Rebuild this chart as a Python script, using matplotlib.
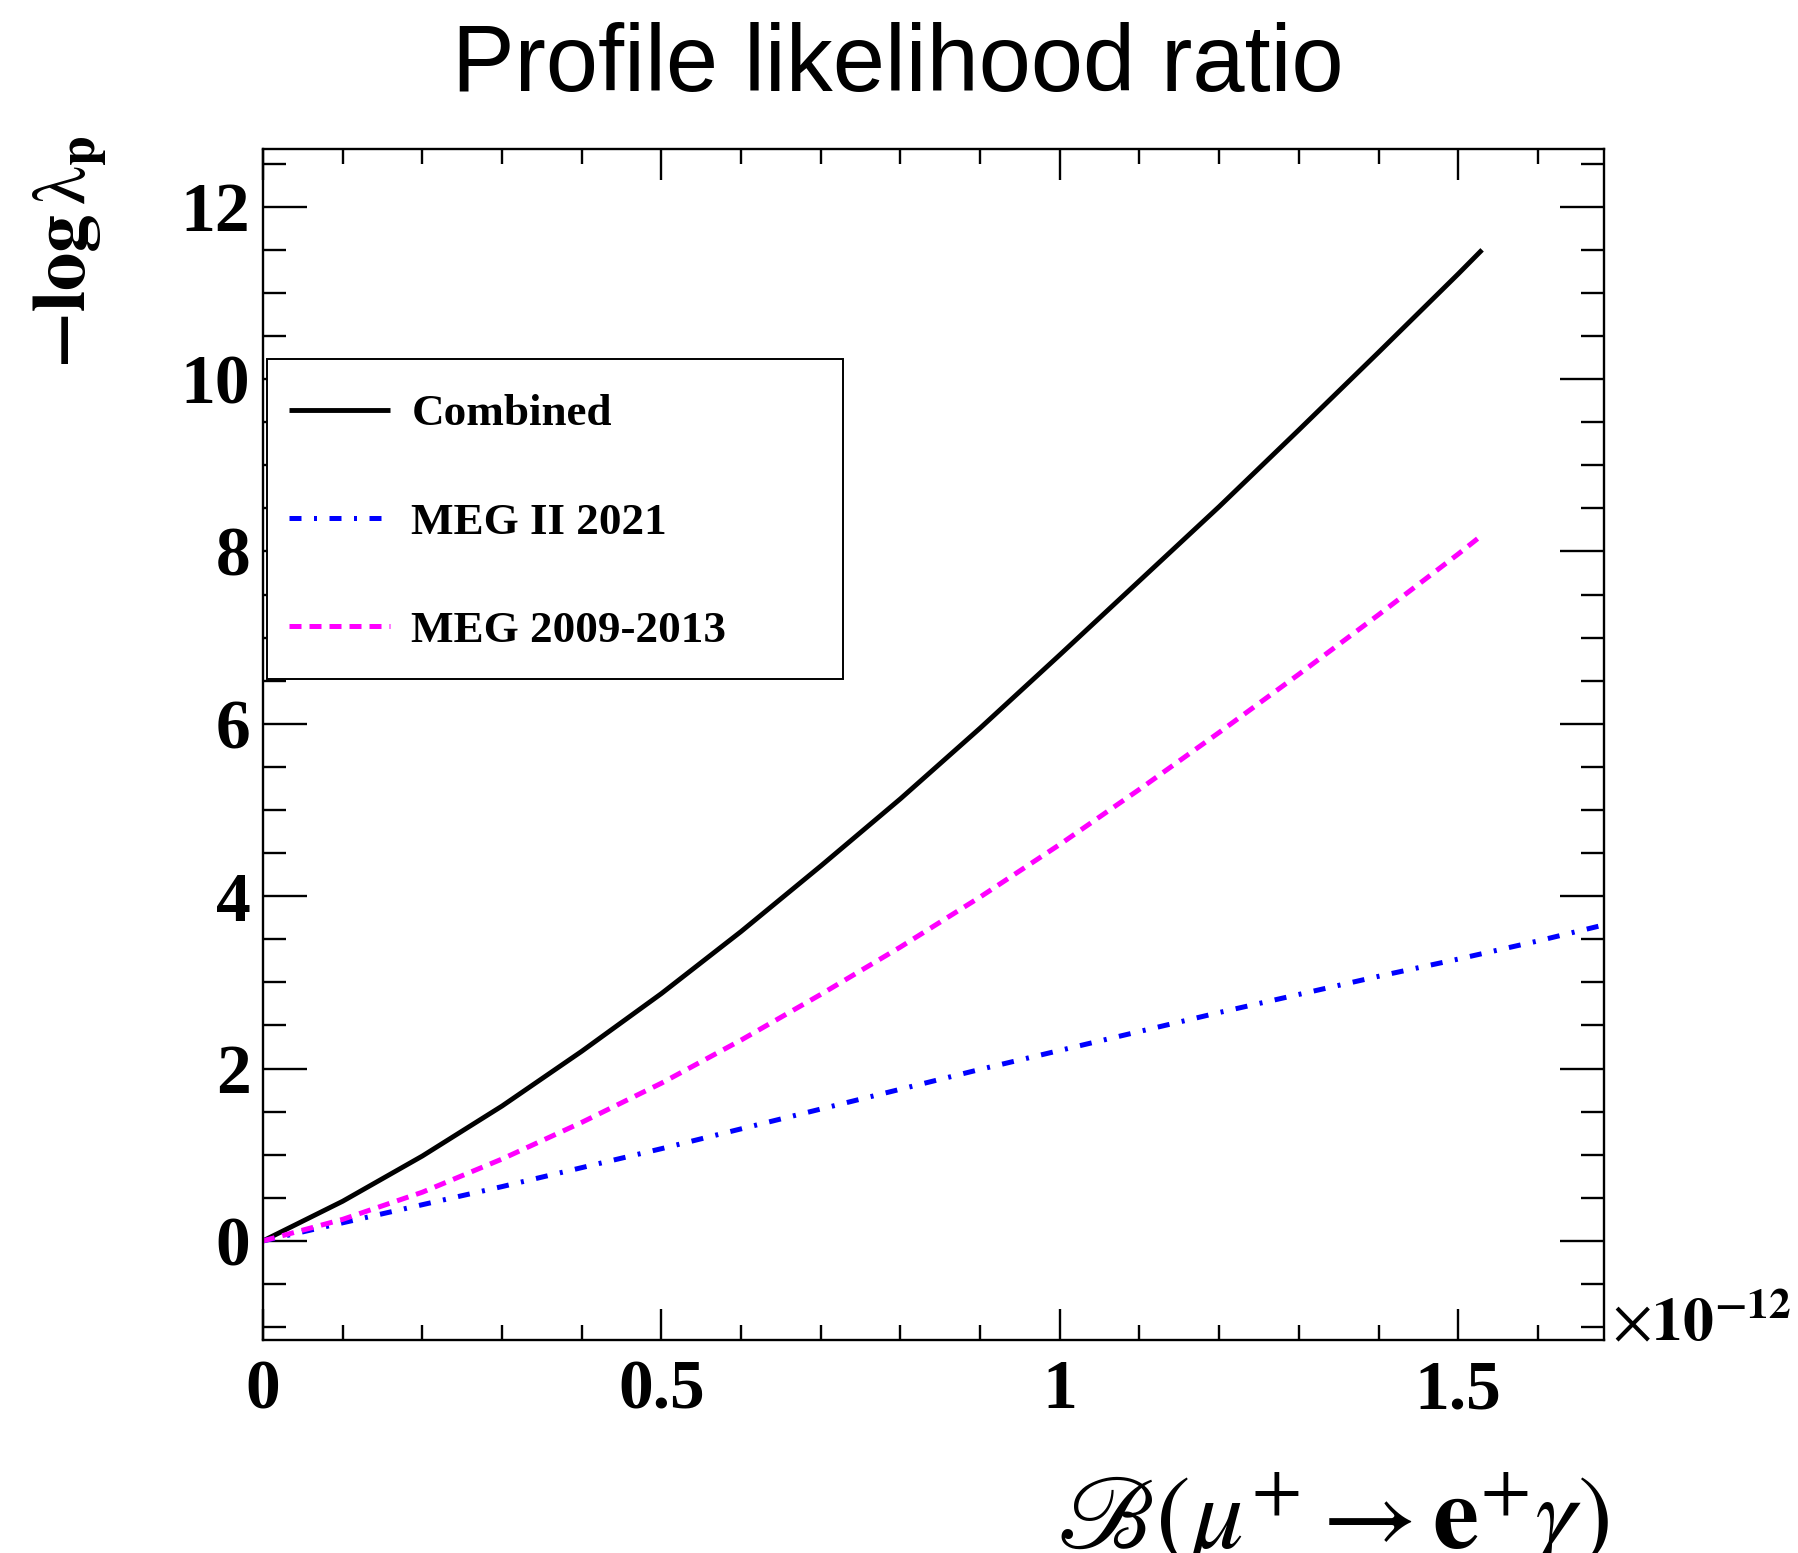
import matplotlib
matplotlib.use("Agg")
import matplotlib.pyplot as plt
from matplotlib.ticker import FixedLocator, MultipleLocator
from matplotlib.patches import Rectangle

# ---------------- data (x in units of 1e-12) ----------------
x_exponent = -12
comb_x = [0.0, 0.1, 0.2, 0.3, 0.4, 0.5, 0.6, 0.7, 0.8, 0.9, 1.0, 1.1, 1.2, 1.3, 1.4, 1.5, 1.53]
comb_y = [0.0, 0.46, 0.985, 1.565, 2.20, 2.87, 3.59, 4.35, 5.13, 5.95, 6.80, 7.66, 8.52, 9.41, 10.31, 11.22, 11.50]

megii_x = [0.0, 0.1, 0.2, 0.3, 0.4, 0.5, 0.6, 0.7, 0.8, 0.9, 1.0, 1.1, 1.2, 1.3, 1.4, 1.5, 1.6, 1.68]
megii_y = [0.0, 0.21, 0.42, 0.63, 0.85, 1.07, 1.30, 1.53, 1.76, 1.99, 2.21, 2.43, 2.65, 2.86, 3.07, 3.27, 3.48, 3.66]

meg_x = [0.0, 0.1, 0.2, 0.3, 0.4, 0.5, 0.6, 0.7, 0.8, 0.9, 1.0, 1.1, 1.2, 1.3, 1.4, 1.5, 1.53]
meg_y = [0.0, 0.25, 0.565, 0.95, 1.375, 1.83, 2.33, 2.86, 3.41, 3.99, 4.60, 5.24, 5.90, 6.575, 7.265, 7.97, 8.19]

series_labels = ["Combined", "MEG II 2021", "MEG 2009-2013"]
title_text = "Profile likelihood ratio"
xtick_vals = [0, 0.5, 1, 1.5]
xtick_labels = ["0", "0.5", "1", "1.5"]
ytick_vals = [0, 2, 4, 6, 8, 10, 12]
ytick_labels = ["0", "2", "4", "6", "8", "10", "12"]
x_limits = (0.0, 1.683)
y_limits = (-1.15, 12.67)

# ---------------- figure ----------------
W, H = 1799, 1553
plt.rcParams["font.family"] = ["Liberation Serif", "DejaVu Serif"]

fig = plt.figure(figsize=(W / 100, H / 100), dpi=100)
fig.patch.set_facecolor("white")
ax = fig.add_axes([263 / W, 1 - 1340 / H, (1604 - 263) / W, (1340 - 149) / H])

l1, = ax.plot(comb_x, comb_y, color="black", lw=3.5, solid_capstyle="butt")
l2, = ax.plot(megii_x, megii_y, color="#0000ff", lw=3.6,
              linestyle=(0, (2.4, 2.5, 0.6, 2.5)), dash_capstyle="butt")
l3, = ax.plot(meg_x, meg_y, color="#ff00ff", lw=3.6,
              linestyle=(0, (2.4, 1.6)), dash_capstyle="butt")

ax.set_xlim(*x_limits)
ax.set_ylim(*y_limits)

ax.xaxis.set_major_locator(FixedLocator(xtick_vals))
ax.xaxis.set_minor_locator(MultipleLocator(0.1))
ax.yaxis.set_major_locator(FixedLocator(ytick_vals))
ax.yaxis.set_minor_locator(MultipleLocator(0.5))
ax.set_xticklabels(xtick_labels)
ax.set_yticklabels(ytick_labels)

ax.tick_params(which="both", direction="in", top=True, right=True, width=1.7, color="black")
ax.tick_params(axis="y", which="major", length=32, pad=9, labelsize=50)
ax.tick_params(axis="y", which="minor", length=16.5)
ax.tick_params(axis="x", which="major", length=22, pad=14, labelsize=50)
ax.tick_params(axis="x", which="minor", length=11)
for lab in ax.get_xticklabels() + ax.get_yticklabels():
    lab.set_fontweight("bold")
for sp in ax.spines.values():
    sp.set_linewidth(1.7)

# legend frame (white filled box)
ax.add_patch(Rectangle((267 / W, 1 - 679 / H), 576 / W, 320 / H, transform=fig.transFigure,
                       facecolor="white", edgecolor="black", lw=1.4, zorder=4, clip_on=False))
leg = ax.legend([l1, l2, l3], series_labels, loc="center left",
                bbox_to_anchor=(289 / W, 1 - 522.5 / H), bbox_transform=fig.transFigure,
                frameon=False, borderpad=0, borderaxespad=0, handlelength=2.24,
                handletextpad=0.47, labelspacing=1.50,
                prop=dict(family="Liberation Serif", weight="bold", size=32.5))
leg.set_zorder(5)

# title and axis labels
fig.text(897.5 / W, 1 - 91 / H, title_text, ha="center", va="baseline",
         fontsize=67.5, family="Liberation Sans", fontweight="normal")
fig.text(70 / W, 1 - 136 / H, r"$\mathbf{-log}\,\mathrm{\lambda}_{\mathbf{p}}$",
         rotation=90, ha="center", va="top", fontsize=55, fontweight="normal",
         math_fontfamily="stix")
fig.text(1609 / W, 1 - 1470 / H, r"$\mathscr{B}(\mu^{+}\rightarrow\mathbf{e}^{+}\gamma)$",
         ha="right", va="top", fontsize=75, fontweight="normal", math_fontfamily="stix")
fig.text(1612 / W, 1 - 1340 / H, r"$\times\mathbf{10}^{\mathbf{%d}}$" % x_exponent,
         ha="left", va="baseline", fontsize=44.5, fontweight="normal", math_fontfamily="stix")

fig.savefig("out.png", dpi=100, facecolor="white")
